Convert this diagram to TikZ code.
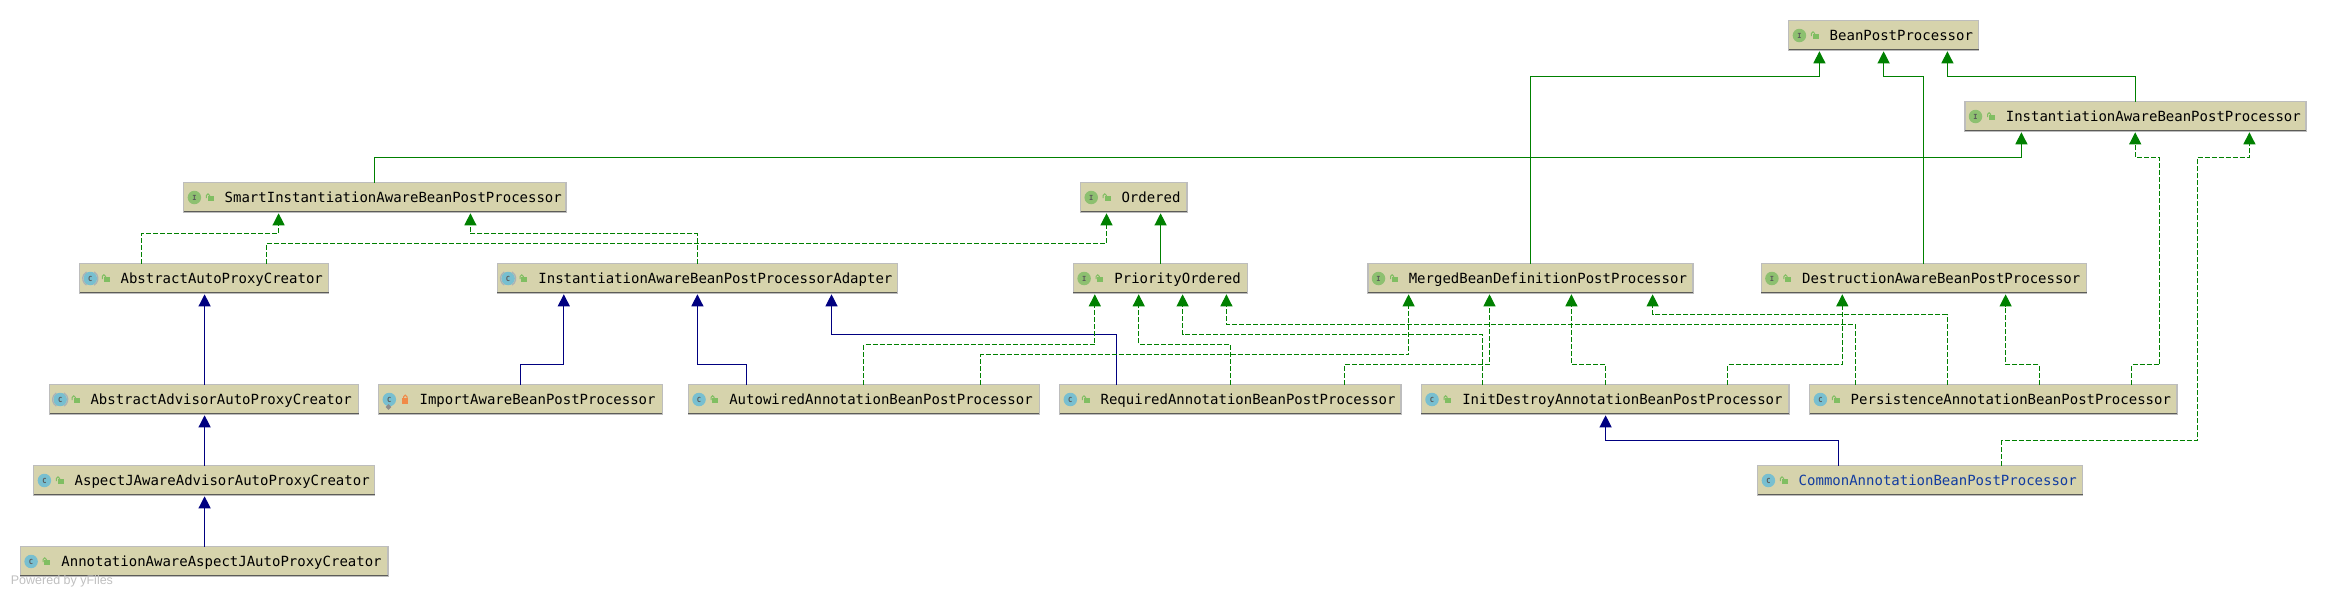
\documentclass[tikz,border=0pt]{standalone}
\usepackage{fontspec}
\setmainfont{DejaVu Sans}
\newfontfamily\monof{DejaVu Sans Mono}
\newfontfamily\poweredf{Liberation Sans}
\usetikzlibrary{arrows.meta,calc}
\definecolor{boxfill}{HTML}{D6D3AC}
\definecolor{boxedge}{HTML}{BDBDBD}
\definecolor{boxbase}{HTML}{5C5C58}
\definecolor{extgreen}{HTML}{008000}
\definecolor{extblue}{HTML}{000080}
\definecolor{iconI}{HTML}{8DC070}
\definecolor{iconC}{HTML}{78BFD0}
\definecolor{lockgreen}{HTML}{80BE62}
\definecolor{lockorange}{HTML}{F08A48}
\definecolor{commonblue}{HTML}{123CA0}
\definecolor{abstractgray}{HTML}{A9B2B6}
\tikzset{
  classbox/.style={draw=boxedge,line width=1.4pt,fill=boxfill,inner sep=0pt,outer sep=0pt,
    minimum height=30pt,text height=10pt,text depth=0pt,
    font=\monof\fontsize{14}{14}\selectfont,text=black},
  kindicon/.style={circle,inner sep=0pt,outer sep=0pt,minimum size=13.5pt,
    font=\monof\bfseries\fontsize{7}{8}\selectfont,text=black!65},
  inh/.style={line width=1.2pt,draw=#1,
    -{Triangle[length=12pt,width=12pt,fill=#1]},shorten >=0.8pt},
  gsolid/.style={inh=extgreen},
  bsolid/.style={inh=extblue},
  gdash/.style={inh=extgreen,line width=1.1pt,dash pattern=on 5pt off 2pt},
}
\newcommand{\openlock}[1]{%
  \fill[lockgreen] ([shift={(24pt,2pt)}]#1.west) rectangle ([shift={(30pt,-3pt)}]#1.west);
  \draw[lockgreen,line width=1pt] ([shift={(22.7pt,-0.5pt)}]#1.west) -- ++(0,2.6pt) arc (180:0:1.6pt) -- ++(0,-0.8pt);
}
\newcommand{\closedlock}[1]{%
  \fill[lockorange] ([shift={(23.7pt,1.5pt)}]#1.west) rectangle ([shift={(29.7pt,-4pt)}]#1.west);
  \draw[lockorange,line width=1pt] ([shift={(25pt,1.5pt)}]#1.west) -- ++(0,1.2pt) arc (180:0:1.7pt) -- ++(0,-1.2pt);
}
% \cls{name}{x1}{y1}{x2}{y2}{kind}{lock macro}{textcolor}{text}
\newcommand{\cls}[9]{%
  \pgfmathsetmacro{\bw}{#4-#2}%
  \pgfmathsetmacro{\bx}{(#2+#4)/2}%
  \pgfmathsetmacro{\by}{(#3+#5)/2}%
  \node[classbox,text width=\bw pt,minimum width=\bw pt,text=#8] (#1) at (\bx,\by) {\hspace*{41pt}#9};
  \draw[boxbase,line width=1.6pt] ([shift={(0pt,1pt)}]#1.south west) -- ([shift={(0pt,1pt)}]#1.south east);
  \node[kindicon,fill=icon#6] (#1-icon) at ([xshift=10.7pt]#1.west) {#6};
  #7{#1}%
}
\newcommand{\abstractmark}[1]{%
  \draw[abstractgray,line width=1.2pt] ([shift={(-120:7.6pt)}]#1-icon.center) arc (-120:-240:7.6pt);
  \draw[abstractgray,line width=1.2pt] ([shift={(-60:7.6pt)}]#1-icon.center) arc (-60:60:7.6pt);
}
% \lnk{style}{src}{src x}{bend y}{dst}{dst x}
\newcommand{\lnk}[6]{\draw[#1] (#3,0 |- #2.north) -- (#3,#4) -- (#6,#4) -- (#6,0 |- #5.south);}
\newcommand{\strt}[4]{\draw[#1] (#3,0 |- #2.north) -- (#3,0 |- #4.south);}
\begin{document}
\begin{tikzpicture}[x=1pt,y=-1pt]
\useasboundingbox (0,0) rectangle (2327,597);
\cls{bpp}{1788.7}{20.5}{1978.5}{50.5}{I}{\openlock}{black}{BeanPostProcessor}
\cls{iabpp}{1964.8}{101.5}{2306}{131.5}{I}{\openlock}{black}{InstantiationAwareBeanPostProcessor}
\cls{smart}{183.7}{182.5}{566}{212.5}{I}{\openlock}{black}{SmartInstantiationAwareBeanPostProcessor}
\cls{ordered}{1080.5}{182.5}{1187.1}{212.5}{I}{\openlock}{black}{Ordered}
\cls{aapc}{79.6}{263.5}{328.6}{293.5}{C}{\openlock}{black}{AbstractAutoProxyCreator}
\abstractmark{aapc}
\cls{adapter}{497.4}{263.5}{897.3}{293.5}{C}{\openlock}{black}{InstantiationAwareBeanPostProcessorAdapter}
\abstractmark{adapter}
\cls{priority}{1073.4}{263.5}{1247.3}{293.5}{I}{\openlock}{black}{PriorityOrdered}
\cls{merged}{1367.8}{263.5}{1692.9}{293.5}{I}{\openlock}{black}{MergedBeanDefinitionPostProcessor}
\cls{destruct}{1761.2}{263.5}{2086.7}{293.5}{I}{\openlock}{black}{DestructionAwareBeanPostProcessor}
\cls{advisor}{49.5}{384.5}{358.7}{414.5}{C}{\openlock}{black}{AbstractAdvisorAutoProxyCreator}
\abstractmark{advisor}
\cls{importa}{378.6}{384.5}{662.2}{414.5}{C}{\closedlock}{black}{ImportAwareBeanPostProcessor}
\fill[black!45] ([shift={(-3.6pt,-7.5pt)}]importa-icon.center) -- ++(2.8pt,2.8pt) -- ++(2.8pt,-2.8pt) -- ++(-2.8pt,-2.8pt) -- cycle;
\cls{autowired}{688.3}{384.5}{1039.2}{414.5}{C}{\openlock}{black}{AutowiredAnnotationBeanPostProcessor}
\cls{required}{1059.6}{384.5}{1400.9}{414.5}{C}{\openlock}{black}{RequiredAnnotationBeanPostProcessor}
\cls{initd}{1421.3}{384.5}{1788.8}{414.5}{C}{\openlock}{black}{InitDestroyAnnotationBeanPostProcessor}
\cls{persist}{1809.7}{384.5}{2177}{414.5}{C}{\openlock}{black}{PersistenceAnnotationBeanPostProcessor}
\cls{aspectj}{33.7}{465.5}{374.5}{495.5}{C}{\openlock}{black}{AspectJAwareAdvisorAutoProxyCreator}
\cls{common}{1757.7}{465.5}{2082.7}{495.5}{C}{\openlock}{commonblue}{CommonAnnotationBeanPostProcessor}
\cls{annot}{20.4}{546.5}{387.8}{576.5}{C}{\openlock}{black}{AnnotationAwareAspectJAutoProxyCreator}
\node[anchor=west,inner sep=0pt,text=black!25,font=\poweredf\fontsize{12.5}{13}\selectfont] (powered) at (10.7,581.5) {Powered by yFiles};
% solid green
\lnk{gsolid}{merged}{1530.6}{76.5}{bpp}{1819.4}
\lnk{gsolid}{destruct}{1923.4}{76.5}{bpp}{1883.6}
\lnk{gsolid}{iabpp}{2135.7}{76.5}{bpp}{1947.4}
\lnk{gsolid}{smart}{374.5}{157.5}{iabpp}{2021.4}
\strt{gsolid}{priority}{1160.6}{ordered}
% solid blue
\strt{bsolid}{advisor}{204.6}{aapc}
\strt{bsolid}{aspectj}{204.6}{advisor}
\strt{bsolid}{annot}{204.6}{aspectj}
\lnk{bsolid}{importa}{520.4}{364.5}{adapter}{563.8}
\lnk{bsolid}{autowired}{746.4}{364.5}{adapter}{697.4}
\lnk{bsolid}{required}{1116.7}{334.5}{adapter}{831.5}
\lnk{bsolid}{common}{1838.3}{440.5}{initd}{1605.6}
% dashed green
\lnk{gdash}{aapc}{141.3}{233.5}{smart}{278.6}
\lnk{gdash}{adapter}{697.4}{233.5}{smart}{470.4}
\lnk{gdash}{aapc}{266.3}{243.5}{ordered}{1106.5}
\lnk{gdash}{autowired}{863.7}{344.5}{priority}{1094.8}
\lnk{gdash}{autowired}{980.5}{354.5}{merged}{1408.6}
\lnk{gdash}{required}{1230.5}{344.5}{priority}{1138.7}
\lnk{gdash}{required}{1344.3}{364.5}{merged}{1489.5}
\lnk{gdash}{initd}{1482.7}{334.5}{priority}{1182.6}
\lnk{gdash}{persist}{1855.6}{324.5}{priority}{1226.4}
\lnk{gdash}{initd}{1605.6}{364.5}{merged}{1571.4}
\lnk{gdash}{persist}{1947.4}{314.5}{merged}{1652.6}
\lnk{gdash}{initd}{1727.6}{364.5}{destruct}{1842.3}
\lnk{gdash}{persist}{2039.3}{364.5}{destruct}{2005.6}
\draw[gdash] (2131.6,0 |- persist.north) -- (2131.6,364.5) -- (2159.7,364.5) -- (2159.7,157.5) -- (2135.2,157.5) -- (2135.2,0 |- iabpp.south);
\draw[gdash] (2001.5,0 |- common.north) -- (2001.5,440.5) -- (2197.4,440.5) -- (2197.4,157.5) -- (2249.4,157.5) -- (2249.4,0 |- iabpp.south);
\end{tikzpicture}
\end{document}
